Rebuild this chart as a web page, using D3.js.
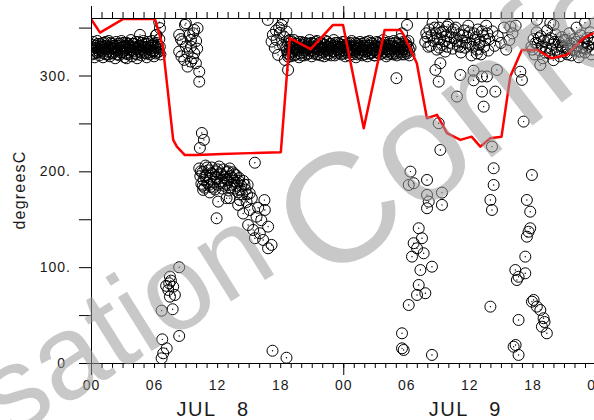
<!DOCTYPE html>
<html>
<head>
<meta charset="utf-8">
<script src="https://cdn.jsdelivr.net/npm/d3@7"></script>
<style>
  html, body { margin: 0; padding: 0; background: #fff; }
  svg { display: block; }
  text { font-family: "Liberation Sans", Arial, sans-serif; fill: #1a1a1a; }
</style>
</head>
<body>
<svg id="chart" width="594" height="420"></svg>
<script>
// ---- time axis (hours since JUL 8 00:00) ----
const majorHours = [0, 24, 48];
const labelHours = [0, 6, 12, 18, 24, 30, 36, 42, 48];
const labelText = ["00", "06", "12", "18", "00", "06", "12", "18", "00"];
const dayHours = [12, 36];
const dayText = ["JUL   8", "JUL   9"];

// ---- value axis ----
const yTickValues = [0, 50, 100, 150, 200, 250, 300, 350];
const yLabelValues = [0, 100, 200, 300];
const yLabelText = ["0", "100.", "200.", "300."];

// ---- red trace: hour, value ----
const traceHours = [0, 0.86, 3.07, 6.08, 6.84, 7.82, 8.17, 8.93, 10.07, 12.5, 15.1, 18.06, 18.91, 20.9, 23.03, 23.98, 25.95, 27.94, 29.44, 29.75, 31.0, 31.96, 32.92, 33.87, 35.14, 36.21, 37.04, 37.99, 39.06, 39.89, 40.99, 42.42, 43.85, 45.27, 46.86, 47.81];
const traceValues = [359, 344.8, 359, 359, 330.2, 232.8, 225.8, 217, 217, 218, 219, 220, 339, 327.5, 352.8, 352.8, 245, 347.6, 347.6, 342.4, 312.8, 255.4, 258.9, 239.8, 232.8, 236.2, 225.8, 234.6, 236.2, 298.9, 326.7, 326.7, 318, 321.5, 338.9, 344.2];

// ---- observations, JUL 8 early morning band ----
const obsNight8 = [[0.05,330],[0.1,322],[0.2,335],[0.3,326],[0.35,319],[0.45,331],[0.55,324],[0.6,336],[0.7,328],[0.8,321],[0.9,333],[1.0,325],[1.05,330],[1.15,319],[1.25,334],[1.35,327],[1.45,322],[1.5,331],[1.6,325],[1.7,336],[1.8,320],[1.9,329],[2.0,333],[2.1,323],[2.2,328],[2.3,318],[2.4,335],[2.5,326],[2.6,331],[2.7,321],[2.8,329],[2.9,336],[3.0,324],[3.1,330],[3.2,319],[3.3,327],[3.4,334],[3.5,322],[3.6,331],[3.7,326],[3.8,337],[3.9,320],[4.0,329],[4.1,333],[4.2,323],[4.3,328],[4.4,318],[4.5,335],[4.6,325],[4.7,331],[4.8,321],[4.9,330],[5.0,336],[5.1,324],[5.2,329],[5.3,319],[5.4,333],[5.5,327],[5.6,322],[5.7,331],[5.8,336],[5.9,325],[6.0,320],[6.1,330],[6.2,334],[6.3,324],[6.4,328],[6.5,338],[6.6,322],
  [0.15,328],[0.25,332],[0.4,323],[0.5,329],[0.65,333],[0.75,325],[0.85,330],[0.95,327],[1.1,334],[1.2,323],[1.3,330],[1.4,335],[1.55,328],[1.65,322],[1.75,330],[1.85,334],[1.95,324],[2.05,328],[2.15,331],[2.25,325],[2.35,330],[2.45,322],[2.55,333],[2.65,327],[2.75,333],[2.85,324],[2.95,330],[3.05,334],[3.15,326],[3.25,331],[3.35,323],[3.45,329],[3.55,333],[3.65,324],[3.75,330],[3.85,327],[3.95,333],[4.05,325],[4.15,330],[4.25,335],[4.35,322],[4.45,329],[4.55,331],[4.65,327],[4.75,324],[4.85,334],[4.95,326],[5.05,330],[5.15,333],[5.25,323],[5.35,328],[5.45,335],[5.55,324],[5.65,329],[5.75,326],[5.85,331],[5.95,333],[6.05,326],[6.15,323],[6.25,329],[6.35,332],[6.45,325],[6.55,330],
  [4.66,342.4],[6.18,342],[6.49,355.6],[3.39,318],[6.56,349.4],[6.24,342.4]];

// ---- observations, JUL 8 daytime ----
const obsDay8 = [
  // morning scatter near the top
  [8.94,352.8],[9.03,354.6],[9.73,344],[9.82,347.6],[10.14,349.4],[8.39,342.4],[9.51,337.2],[8.71,335.4],[9.03,330.2],[9.51,330.2],[8.39,325],[9.19,323.3],[9.82,323.3],[8.87,316.3],[9.51,314.5],[9.98,312.8],[10.3,304],[10.3,293.6],[9.19,309.3],[8.55,338],[9.35,342],[10.0,336],[8.6,320],[9.7,318],[10.1,328],
  [10.55,240],[10.74,232.8],[10.36,224.4],
  // midday cluster
  [10.3,203],[10.4,195],[10.5,187],[10.6,199],[10.7,191],[10.8,183],[10.9,206],[11.0,196],[11.1,188],[11.2,201],[11.3,192],[11.4,184],[11.5,204],[11.6,197],[11.7,189],[11.8,181],[11.9,200],[12.0,193],[12.1,186],[12.2,205],[12.3,198],[12.4,190],[12.5,182],[12.6,202],[12.7,194],[12.8,187],[12.9,199],[13.0,191],[13.1,180],[13.2,203],[13.3,195],[13.4,186],[13.5,199],[13.6,190],[13.7,182],[13.8,196],[13.9,188],[14.0,178],[14.1,193],[14.3,185],[14.4,176],[14.5,190],[14.7,181],[14.9,186],[15.1,177],[15.3,172],
  [10.45,200],[10.65,185],[10.85,195],[11.05,204],[11.25,186],[11.45,198],[11.65,183],[11.85,194],[12.05,202],[12.25,188],[12.45,197],[12.65,185],[12.85,192],[13.05,200],[13.25,183],[13.45,193],[13.65,197],[13.85,185],[14.05,190],[14.25,180],[14.6,186],[14.85,176],
  [10.67,180.6],[11.95,151],[12.1,168.4],[15.59,209],[16.54,159.7],
  [14.16,170],[14.8,168],[14.48,156],[15.1,159.7],[15.75,152.7],[16.2,149],[14.95,144],[15.43,138.8],[16.85,142.3],[16.06,135.4],[15.59,130.2],[16.38,128.4],[17.18,123.2],[16.85,119.7],[15.9,162],[16.5,170],[13.2,172],[11.3,178],[12.9,172],[14.0,165],
  // low readings
  [8.39,99.9],[7.51,90.1],[7.44,83.2],[7.82,79.6],[7.35,76.2],[7.98,71],[7.51,69.2],[6.72,54.6],[7.77,56.1],[8.39,28.2],[6.78,24.7],[7.2,15.3],[6.87,10.1],[6.72,4.9],[7.15,80.5],[7.6,86],
  [17.27,12.8],[18.6,5.5],
  // evening scatter near the top
  [16.82,358],[18.13,352.8],[17.97,344.5],[17.65,337.2],[17.18,335.4],[18.6,345.8],[17.8,321.5],[18.75,319.7],[18.75,305.8],[18.25,332],[17.49,328.8],[18.92,337.2],[18.44,316.3],[17.3,342.4],[18.25,358],[17.9,350],[18.4,340],[17.6,347]
];

// ---- observations, JUL 8 evening to JUL 9 morning band ----
const obsNight9 = [[18.6,330],[18.7,323],[18.8,336],[18.9,327],[19.0,320],[19.1,332],[19.2,325],[19.3,337],[19.4,329],[19.5,322],[19.6,333],[19.7,326],[19.8,319],[19.9,331],[20.0,335],[20.1,324],[20.2,328],[20.3,321],[20.4,334],[20.5,327],[20.6,331],[20.7,323],[20.8,337],[20.9,326],[21.0,320],[21.1,330],[21.2,333],[21.3,325],[21.4,328],[21.5,336],[21.6,322],[21.7,331],[21.8,327],[21.9,334],[22.0,324],[22.1,329],[22.2,320],[22.3,332],[22.4,326],[22.5,335],[22.6,330],[22.7,323],[22.8,328],[22.9,333],[23.0,325],[23.1,337],[23.2,321],[23.3,330],[23.4,327],[23.5,334],[23.6,324],[23.7,329],[23.8,322],[23.9,332],[24.0,326],[24.1,335],[24.2,320],[24.3,330],[24.4,327],[24.5,333],[24.6,324],[24.7,329],[24.8,336],[24.9,322],[25.0,331],[25.1,326],[25.2,319],[25.3,333],[25.4,328],[25.5,324],[25.6,335],[25.7,330],[25.8,321],[25.9,327],[26.0,334],[26.1,325],[26.2,331],[26.3,320],[26.4,329],[26.5,336],[26.6,323],[26.7,328],[26.8,333],[26.9,326],[27.0,321],[27.1,331],[27.2,335],[27.3,324],[27.4,329],[27.5,322],[27.6,333],[27.7,327],[27.8,337],[27.9,325],[28.0,330],[28.1,320],[28.2,332],[28.3,326],[28.4,335],[28.5,328],[28.6,323],[28.7,331],[28.8,336],[28.9,325],[29.0,329],[29.1,321],[29.2,333],[29.3,327],[29.4,338],[29.5,324],[29.6,330],[29.7,335],[29.8,322],[29.9,328],[30.0,332],[30.1,325],[30.2,336],[30.3,321],[30.4,329],
  [18.65,326],[18.75,333],[18.85,322],[18.95,330],[19.05,335],[19.15,324],[19.25,329],[19.35,321],[19.45,333],[19.55,327],[19.65,330],[19.75,335],[19.85,323],[19.95,328],[20.05,321],[20.15,332],[20.25,334],[20.35,326],[20.45,330],[20.55,322],[20.65,328],[20.75,333],[20.85,330],[20.95,334],[21.05,326],[21.15,323],[21.25,329],[21.35,335],[21.45,322],[21.55,330],[21.65,327],[21.75,334],[21.85,321],[21.95,329],[22.05,333],[22.15,325],[22.25,328],[22.35,336],[22.45,322],[22.55,330],[22.65,326],[22.75,333],[22.85,321],[22.95,329],[23.05,331],[23.15,325],[23.25,334],[23.35,323],[23.45,330],[23.55,327],[23.65,333],[23.75,325],[23.85,330],[23.95,335],[24.05,323],[24.15,329],[24.25,332],[24.35,324],[24.45,331],[24.55,321],[24.65,334],[24.75,326],[24.85,330],[24.95,327],[25.05,324],[25.15,334],[25.25,328],[25.35,322],[25.45,331],[25.55,329],[25.65,323],[25.75,333],[25.85,326],[25.95,331],[26.05,322],[26.15,329],[26.25,335],[26.35,326],[26.45,323],[26.55,331],[26.65,334],[26.75,324],[26.85,329],[26.95,321],[27.05,327],[27.15,324],[27.25,330],[27.35,334],[27.45,326],[27.55,330],[27.65,323],[27.75,331],[27.85,329],[27.95,334],[28.05,324],[28.15,328],[28.25,322],[28.35,331],[28.45,325],[28.55,333],[28.65,327],[28.75,322],[28.85,330],[28.95,334],[29.05,323],[29.15,328],[29.25,325],[29.35,332],[29.45,329],[29.55,322],[29.65,327],[29.75,331],[29.85,325],[29.95,335],[30.05,323],[30.15,330],[30.25,327],
  [29.06,297.2],[30.07,352.8],[29.59,344]];

// ---- observations, JUL 9 daytime ----
const obsDay9 = [
  [32.0,340],[32.2,348],[32.3,331],[32.5,355],[32.6,336],[32.8,344],[32.9,327],[33.1,350],[33.2,338],[33.4,332],[33.5,346],[33.7,325],[33.8,341],[34.0,353],[34.1,334],[34.3,345],[34.4,328],[34.6,339],[34.7,350],[34.9,331],[35.0,343],[35.2,324],[35.3,336],[35.5,347],[35.6,329],[35.8,340],[35.9,352],[36.1,333],[36.2,321],[36.4,344],[36.5,337],[36.7,327],[36.8,348],[37.0,335],[37.1,322],[37.3,342],[37.4,330],[37.6,352],[37.8,326],
  [31.8,335],[31.9,344],[32.1,330],[32.4,342],[32.7,350],[32.95,338],[33.15,329],[33.3,345],[33.6,336],[33.9,330],[34.2,340],[34.5,348],[34.8,336],[35.1,330],[35.4,342],[35.7,334],[36.0,345],[36.3,330],[36.6,340],[36.9,332],[37.2,346],[37.5,337],[37.7,344],
  [37.9,338],[38.2,346],[38.4,331],[38.7,341],[39.0,334],[39.3,350],[39.5,327],[39.8,337],[40.1,344],[40.4,352],
  [38.62,305.8],[38.47,283.2],[37.2,283.2],[37.36,267.5],[36.4,305],[36.4,295],[36.72,323],[37.2,299],[37.67,299],
  [33.08,293.6],[33.24,312.8],[32.77,305.8],[33.87,351],[35.14,300.6],[34.82,278],[33.08,250.2],[41.0,295.4],[41.16,251.9],[40.85,304],[42.75,311],[39.9,351],[33.24,222.3],
  [41.9,330],[42.1,338],[42.2,322],[42.4,345],[42.5,333],[42.7,326],[42.8,341],[43.0,318],[43.1,336],[43.3,329],[43.4,347],[43.6,323],[43.7,339],[43.9,332],[44.0,316],[44.2,343],[44.3,327],[44.5,335],[44.6,320],[44.8,340],[44.9,330],[45.1,324],[45.2,337],[45.4,328],[45.5,344],[45.7,321],[45.8,333],[46.0,338],[46.1,326],[46.3,331],[46.4,319],[46.6,342],[46.7,329],[46.9,335],[47.0,324],[47.2,339],[47.3,330],[47.5,345],[47.6,322],[47.8,334],
  [42.0,327],[42.3,334],[42.6,339],[42.9,330],[43.2,324],[43.5,337],[43.8,328],[44.1,335],[44.4,324],[44.7,331],[45.0,337],[45.3,322],[45.6,331],[45.9,327],[46.2,335],[46.5,325],[46.8,333],[47.1,328],[47.4,337],[47.7,327],[47.9,340],
  [42.42,358],[43.7,355],[44.0,352.8],[47.0,355],[46.2,350],
  // mid and low readings
  [30.39,199.7],[30.7,187.6],[30.23,185.8],[31.97,191],[33.39,177.8],[31.97,175.4],[32.13,168.4],[33.39,165],[31.97,161.5],[31.18,140.6],[31.49,130.2],[30.7,125],[31.02,119.7],[31.65,114.5],[30.54,111],[32.44,100.5],[31.34,97],[31.18,81.4],[31.02,71],[31.81,72.8],[30.23,60.5],[29.59,31],[29.59,15.3],[29.75,13.6],[32.44,8.4],
  [38.15,225.8],[38.31,203.2],[38.31,185.8],[38.0,170.1],[38.15,159.7],[38.0,58.8],
  [41.95,196.2],[41.47,170.1],[41.79,157.9],[41.79,140.6],[41.63,137],[41.47,131.8],[41.32,111],[40.37,97],[41.32,93.6],[40.68,90],[40.52,86.6],[40.68,44.9],[40.21,17],[40.68,8.4],[40.4,18.8],[42.11,65.8],[42.42,58.8],[43.06,46.7],[42.9,37.9],[43.37,31],[42.75,55.3],[41.95,64],[43.15,42.8]
];

const svg = d3.select("#chart");
const W = 594, H = 420;
const plotLeft = 91, plotTop = 18, plotBottom = 363, plotRight = 595.5;

svg.append("rect").attr("width", W).attr("height", H).attr("fill", "#fff");

const x = d3.scaleLinear().domain([0, 48]).range([plotLeft, plotRight]);
const y = d3.scaleLinear().domain([0, 360]).range([plotBottom, plotTop]);

svg.append("defs").append("clipPath").attr("id", "plotClip")
  .append("rect").attr("x", plotLeft).attr("y", plotTop)
  .attr("width", plotRight - plotLeft).attr("height", plotBottom - plotTop);

const plot = svg.append("g").attr("clip-path", "url(#plotClip)");

// observation circles with centre dots
const obs = [].concat(obsNight8, obsDay8, obsNight9, obsDay9);
const pts = plot.append("g");
pts.selectAll("circle.ring").data(obs).join("circle")
  .attr("class", "ring")
  .attr("cx", d => x(d[0])).attr("cy", d => y(d[1])).attr("r", 5.5)
  .attr("fill", "none").attr("stroke", "#000").attr("stroke-width", 1);
pts.selectAll("circle.dot").data(obs).join("circle")
  .attr("class", "dot")
  .attr("cx", d => x(d[0])).attr("cy", d => y(d[1])).attr("r", 0.7)
  .attr("fill", "#000");

// red trace
const line = d3.line().x((d, i) => x(traceHours[i])).y(d => y(d));
plot.append("path").datum(traceValues)
  .attr("d", line).attr("fill", "none")
  .attr("stroke", "#ff0000").attr("stroke-width", 2.5).attr("stroke-linejoin", "round");

// axes
const hourTicks = d3.range(0, 49);
const axisStyle = g => {
  g.selectAll("path.domain").attr("stroke", "#000").attr("stroke-width", 1);
  g.selectAll(".tick line").attr("stroke", "#000").attr("stroke-width", 1);
  g.selectAll("text").remove();
};

svg.append("g").attr("transform", `translate(0,${plotBottom})`)
  .call(d3.axisBottom(x).tickValues(hourTicks).tickSize(5).tickSizeOuter(0)).call(axisStyle);
svg.append("g").attr("transform", `translate(0,${plotBottom})`)
  .call(d3.axisBottom(x).tickValues(majorHours).tickSize(12).tickSizeOuter(0)).call(axisStyle);
svg.append("g").attr("transform", `translate(0,${plotTop})`)
  .call(d3.axisTop(x).tickValues(hourTicks).tickSize(6).tickSizeOuter(0)).call(axisStyle);
svg.append("g").attr("transform", `translate(0,${plotTop})`)
  .call(d3.axisTop(x).tickValues(majorHours).tickSize(12).tickSizeOuter(0)).call(axisStyle);
svg.append("g").attr("transform", `translate(${plotLeft},0)`)
  .call(d3.axisLeft(y).tickValues(yTickValues).tickSize(12).tickSizeOuter(0)).call(axisStyle);

// tick labels
svg.append("g").selectAll("text").data(labelHours).join("text")
  .attr("x", d => x(d) + 0.5).attr("y", 390)
  .attr("text-anchor", "middle").attr("font-size", 14)
  .style("letter-spacing", "1px")
  .text((d, i) => labelText[i]);

svg.append("g").selectAll("text").data(dayHours).join("text")
  .attr("x", d => x(d) - 4).attr("y", 416)
  .attr("text-anchor", "middle").attr("font-size", 20)
  .style("white-space", "pre").style("letter-spacing", "1.5px")
  .text((d, i) => dayText[i]);

svg.append("g").selectAll("text").data(yLabelValues).join("text")
  .attr("x", d => d === 0 ? 66 : 71).attr("y", d => y(d)).attr("dy", "0.36em")
  .attr("text-anchor", "end").attr("font-size", 14)
  .style("letter-spacing", "1px")
  .text((d, i) => yLabelText[i]);

svg.append("text")
  .attr("transform", "translate(25,190) rotate(-90)")
  .attr("text-anchor", "middle").attr("font-size", 16)
  .style("letter-spacing", "1.2px")
  .text("degreesC");

// translucent overlay lettering
const overlay = svg.append("g")
  .style("font-family", "'Liberation Sans', Arial, sans-serif");
overlay.append("text")
  .attr("transform", "translate(9,440) rotate(-32)")
  .attr("font-size", 120)
  .style("fill", "#9a9a9a").style("fill-opacity", 0.55)
  .text("sation");
overlay.append("text")
  .attr("transform", "translate(327,286) rotate(-38)")
  .attr("font-size", 155)
  .style("fill", "#9a9a9a").style("fill-opacity", 0.55)
  .text("Confe");
</script>
</body>
</html>
